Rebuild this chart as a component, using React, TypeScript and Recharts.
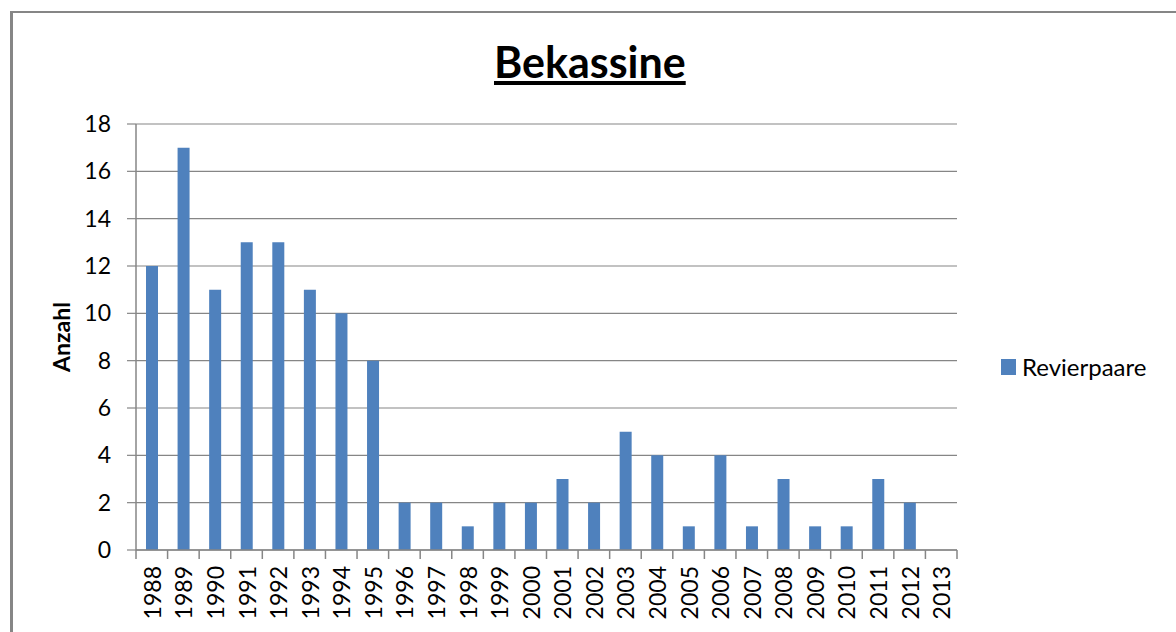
import React from "react";
import { BarChart, Bar, XAxis, YAxis, CartesianGrid } from "recharts";

const years = ["1988","1989","1990","1991","1992","1993","1994","1995","1996","1997","1998","1999","2000","2001","2002","2003","2004","2005","2006","2007","2008","2009","2010","2011","2012","2013"];
const revierpaare: (number | null)[] = [12,17,11,13,13,11,10,8,2,2,1,2,2,3,2,5,4,1,4,1,3,1,1,3,2,null];
const yTicks = [0,2,4,6,8,10,12,14,16,18];

const data = years.map((y, i) => ({ year: y, Revierpaare: revierpaare[i] }));

const FONT = "Lato, 'Open Sans', sans-serif";
const PLOT_LEFT = 136;
const PLOT_RIGHT = 957;
const STEP = (PLOT_RIGHT - PLOT_LEFT) / years.length;

const XTick = (props: any) => {
  const { x, y, payload, index } = props;
  const last = index === years.length - 1;
  return (
    <g>
      <line x1={x - STEP / 2} x2={x - STEP / 2} y1={y - 8} y2={y + 1} stroke="#868686" strokeWidth={1.5} />
      {last && <line x1={x + STEP / 2} x2={x + STEP / 2} y1={y - 8} y2={y + 1} stroke="#868686" strokeWidth={1.5} />}
      <text
        x={0}
        y={0}
        transform={`translate(${x + 9}, ${y + 8}) rotate(-90)`}
        textAnchor="end"
        fontSize={23}
        fontFamily={FONT}
        fill="#000"
      >
        {payload.value}
      </text>
    </g>
  );
};

export default function App() {
  return (
    <div style={{ position: "absolute", left: 0, top: 0, width: 1176, height: 632, overflow: "hidden", background: "#fff" }}>
      <div style={{ position: "absolute", left: 10, top: 11, width: 1300, height: 700, borderLeft: "3px solid #868686", borderTop: "2px solid #868686", boxSizing: "border-box" }} />
      <div style={{ position: "absolute", left: 494, top: 36, fontFamily: FONT, fontWeight: 700, fontSize: 43, textDecoration: "underline", color: "#000", whiteSpace: "nowrap", lineHeight: "52px" }}>
        Bekassine
      </div>
      <div style={{ position: "absolute", left: 0, top: 0 }}>
        <BarChart width={1176} height={632} data={data} margin={{ top: 124, right: 1176 - PLOT_RIGHT, bottom: 0, left: 0 }} barCategoryGap="0%">
          <CartesianGrid vertical={false} stroke="#868686" strokeWidth={1.2} />
          <XAxis dataKey="year" height={82} tick={<XTick />} tickLine={false} axisLine={{ stroke: "#868686", strokeWidth: 1.5 }} interval={0} />
          <YAxis
            width={PLOT_LEFT}
            domain={[0, 18]}
            ticks={yTicks}
            tickSize={9}
            tickMargin={16}
            tickLine={{ stroke: "#868686", strokeWidth: 1.2 }}
            axisLine={{ stroke: "#868686", strokeWidth: 1.5 }}
            tick={{ fontSize: 23, fontFamily: FONT, fill: "#000" }}
            label={{ value: "Anzahl", angle: -90, position: "insideLeft", offset: 0, dx: 62, dy: 0, style: { fontSize: 23, fontWeight: 700, fontFamily: FONT, fill: "#000", textAnchor: "middle" } }}
          />
          <Bar dataKey="Revierpaare" fill="#4F81BD" barSize={12} isAnimationActive={false} />
        </BarChart>
      </div>
      <div style={{ position: "absolute", left: 1001, top: 352, display: "flex", alignItems: "center", fontFamily: FONT, fontSize: 24, color: "#000", whiteSpace: "nowrap" }}>
        <span style={{ display: "inline-block", width: 15, height: 16, background: "#4F81BD", marginRight: 6 }} />
        <span>Revierpaare</span>
      </div>
    </div>
  );
}
